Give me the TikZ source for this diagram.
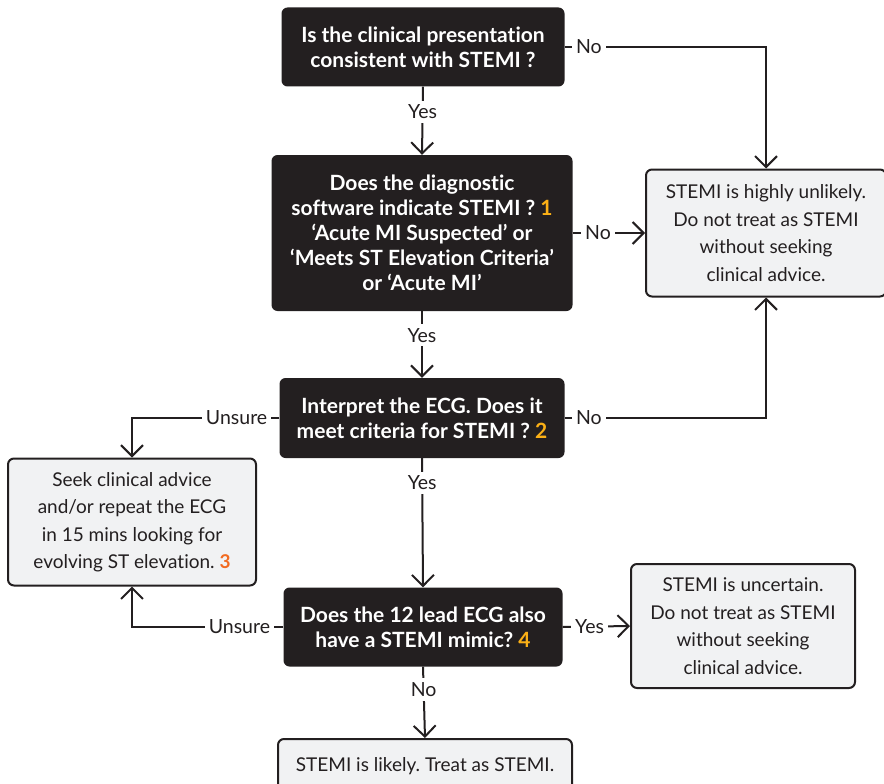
\documentclass[tikz,border=0pt]{standalone}
\usepackage{fontspec}
\setmainfont{Lato}[Ligatures=NoCommon]
\frenchspacing
\usetikzlibrary{arrows.meta}
\definecolor{boxblack}{HTML}{231F20}
\definecolor{boxgrey}{HTML}{F1F2F3}
\definecolor{numgold}{HTML}{FBB016}
\definecolor{numorange}{HTML}{F26B21}
\def\gold#1{{\color{numgold}#1}}
\def\orng#1{{\color{numorange}#1}}
\tikzset{
  qbox/.style={rectangle, rounded corners=6pt, fill=boxblack, text=white, align=center,
    font=\bfseries\fontsize{21}{25}\selectfont, inner sep=0pt},
  abox/.style={rectangle, rounded corners=6pt, draw=boxblack, line width=2pt, fill=boxgrey,
    text=boxblack, align=center, font=\fontsize{19}{27.5}\selectfont, inner sep=0pt},
  lbl/.style={fill=white, text=boxblack, inner sep=4pt, font=\fontsize{19.5}{20}\selectfont},
  arr/.style={draw=boxblack, line width=2pt, -{Straight Barb[length=11pt,width=22pt,line width=2pt]}}
}

\begin{document}
\begin{tikzpicture}[x=1pt, y=-1pt]
	\useasboundingbox (0,0) rectangle (884,784);
	% questions
	\node[qbox, minimum width=283, minimum height=79] (q1) at (423,47)
		{Is the clinical presentation\\consistent with STEMI ?};
	\node[qbox, minimum width=301, minimum height=156] (q2) at (422,233)
		{Does the diagnostic\\software indicate STEMI ? \gold{1}\\‘Acute MI Suspected’ or\\‘Meets ST Elevation Criteria’\\or ‘Acute MI’};
	\node[qbox, minimum width=285, minimum height=80] (q3) at (422,418)
		{Interpret the ECG. Does it\\meet criteria for STEMI ? \gold{2}};
	\node[qbox, minimum width=279, minimum height=79] (q4) at (423,627)
		{Does the 12 lead ECG also\\have a STEMI mimic? \gold{4}};
	% outcomes
	\node[abox, minimum width=240, minimum height=127, anchor=west] (unlikely) at (645,233)
		{STEMI is highly unlikely.\\Do not treat as STEMI\\without seeking\\clinical advice.};
	\node[abox, minimum width=248, minimum height=127] (repeat) at (132,522)
		{Seek clinical advice\\and/or repeat the ECG\\in 15 mins looking for\\evolving ST elevation. \textbf{\orng{3}}};
	\node[abox, minimum width=224, minimum height=124] (uncertain) at (743,626)
		{STEMI is uncertain.\\Do not treat as STEMI\\without seeking\\clinical advice.};
	\node[abox, minimum width=294, minimum height=54, anchor=north] (likely) at (425,738)
		{STEMI is likely. Treat as STEMI.};
	% connectors
	\draw[arr] (q1.south) -- node[lbl, pos=0.37] {Yes} (q2.north);
	\draw[arr] (q2.south) -- node[lbl, pos=0.36] {Yes} (q3.north);
	\draw[arr] (q3.south) -- node[lbl, pos=0.19] {Yes} (q4.north);
	\draw[arr] (q4.south) -- node[lbl, pos=0.32] {No} (likely.north);
	\draw[arr] (q1.east) -- node[lbl, pos=0.12] {No} (q1.east -| unlikely.north) -- (unlikely.north);
	\draw[arr] (q2.east) -- node[lbl, pos=0.35] {No} (unlikely.west);
	\draw[arr] (q3.east) -- node[lbl, pos=0.12] {No} (q3.east -| unlikely.south) -- (unlikely.south);
	\draw[arr] (q3.west) -- node[lbl, pos=0.29] {Unsure} (q3.west -| repeat.north) -- (repeat.north);
	\draw[arr] (q4.west) -- node[lbl, pos=0.29] {Unsure} (q4.west -| repeat.south) -- (repeat.south);
	\draw[arr] (q4.east) -- node[lbl, pos=0.4] {Yes} (uncertain.west);
\end{tikzpicture}
\end{document}
